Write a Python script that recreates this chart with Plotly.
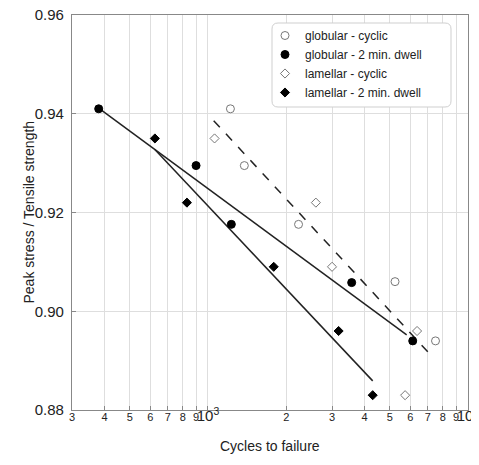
import plotly.graph_objects as go

# ---- data ----
glob_cyc_n = [1220, 1380, 2230, 5240, 7500]
glob_cyc_s = [0.941, 0.9295, 0.9176, 0.906, 0.894]

glob_dw_n = [380, 900, 1230, 3570, 6130]
glob_dw_s = [0.941, 0.9295, 0.9176, 0.9058, 0.894]

lam_cyc_n = [1060, 2600, 3000, 6370, 5730]
lam_cyc_s = [0.935, 0.922, 0.909, 0.896, 0.883]

lam_dw_n = [625, 830, 1790, 3180, 4300]
lam_dw_s = [0.935, 0.922, 0.909, 0.896, 0.883]

# fitted lines (endpoints)
fit_glob_dw_n = [381, 5810]
fit_glob_dw_s = [0.9411, 0.8952]
fit_lam_dw_n = [626, 4300]
fit_lam_dw_s = [0.9327, 0.8859]
fit_cyc_n = [1052, 7320]
fit_cyc_s = [0.9386, 0.8907]

tick_vals = [300, 400, 500, 600, 700, 800, 900, 1000,
             2000, 3000, 4000, 5000, 6000, 7000, 8000, 9000, 10000]
tick_text = ["3", "4", "5", "6", "7", "8", "9",
             "<span style='font-size:15px'>10<sup>3</sup></span>",
             "2", "3", "4", "5", "6", "7", "8", "9",
             "<span style='font-size:15px'>10<sup>4</sup></span>"]

FONT = "Arial, Liberation Sans, sans-serif"
GRAYM = "#777777"

fig = go.Figure()

# fit lines
fig.add_trace(go.Scatter(x=fit_glob_dw_n, y=fit_glob_dw_s, mode="lines",
                         line=dict(color="#222222", width=1.5), showlegend=False, hoverinfo="skip"))
fig.add_trace(go.Scatter(x=fit_lam_dw_n, y=fit_lam_dw_s, mode="lines",
                         line=dict(color="#222222", width=1.5), showlegend=False, hoverinfo="skip"))
fig.add_trace(go.Scatter(x=fit_cyc_n, y=fit_cyc_s, mode="lines",
                         line=dict(color="#222222", width=1.5, dash="dash"), showlegend=False, hoverinfo="skip"))

fig.add_trace(go.Scatter(x=glob_cyc_n, y=glob_cyc_s, mode="markers", name="globular - cyclic",
                         marker=dict(symbol="circle", size=8, color="white",
                                     line=dict(color=GRAYM, width=1))))
fig.add_trace(go.Scatter(x=glob_dw_n, y=glob_dw_s, mode="markers", name="globular - 2 min. dwell",
                         marker=dict(symbol="circle", size=8, color="black",
                                     line=dict(color="black", width=1))))
fig.add_trace(go.Scatter(x=lam_cyc_n, y=lam_cyc_s, mode="markers", name="lamellar - cyclic",
                         marker=dict(symbol="diamond", size=7, color="white",
                                     line=dict(color=GRAYM, width=1))))
fig.add_trace(go.Scatter(x=lam_dw_n, y=lam_dw_s, mode="markers", name="lamellar - 2 min. dwell",
                         marker=dict(symbol="diamond", size=7, color="black",
                                     line=dict(color="black", width=1))))

# rounded legend box
pw, ph = 396.0, 395.0
x0, x1 = (272 - 72) / pw, (451 - 72) / pw
y0, y1 = (410 - 107) / ph, (410 - 23) / ph
rx, ry = 6 / pw, 6 / ph
path = (f"M {x0+rx},{y0} L {x1-rx},{y0} Q {x1},{y0} {x1},{y0+ry} "
        f"L {x1},{y1-ry} Q {x1},{y1} {x1-rx},{y1} L {x0+rx},{y1} "
        f"Q {x0},{y1} {x0},{y1-ry} L {x0},{y0+ry} Q {x0},{y0} {x0+rx},{y0} Z")
fig.add_shape(type="path", path=path, xref="paper", yref="paper",
              fillcolor="white", line=dict(color="#cfcfcf", width=1), layer="above")

# axis titles as annotations (exact placement)
fig.add_annotation(text="Cycles to failure", xref="paper", yref="paper",
                   x=0.5, y=(410 - 446) / ph, xanchor="center", yanchor="middle",
                   showarrow=False, font=dict(size=14, family=FONT, color="#222222"))
fig.add_annotation(text="Peak stress / Tensile strength", xref="paper", yref="paper",
                   x=(28 - 72) / pw, y=0.5, xanchor="center", yanchor="middle",
                   textangle=-90, showarrow=False,
                   font=dict(size=14, family=FONT, color="#222222"))

# page body has an 8px margin -> figure is offset by 8px
fig.update_layout(
    width=471, height=457,
    margin=dict(l=64, r=11, t=7, b=55, autoexpand=False),
    paper_bgcolor="white", plot_bgcolor="white",
    font=dict(family=FONT, color="#222222"),
    legend=dict(x=(265 - 72) / pw, y=(410 - 21) / ph, xanchor="left", yanchor="top",
                bgcolor="rgba(0,0,0,0)", borderwidth=0,
                font=dict(size=12, family=FONT, color="#222222"),
                itemwidth=30, tracegroupgap=0),
    xaxis=dict(type="log", range=[2.4771213, 4.0], automargin=False,
               tickvals=tick_vals, ticktext=tick_text, tickangle=0,
               ticklabeloverflow="allow", ticklabelstandoff=-3,
               tickfont=dict(size=11, family=FONT, color="#222222"),
               showgrid=True, gridcolor="#dedede", gridwidth=1,
               ticks="inside", ticklen=4, tickcolor="#888888",
               showline=True, linecolor="#888888", linewidth=1.2, mirror=True,
               zeroline=False),
    yaxis=dict(range=[0.88, 0.96], automargin=False,
               tickvals=[0.88, 0.90, 0.92, 0.94, 0.96],
               ticktext=["0.88", "0.90", "0.92", "0.94", "0.96"],
               ticklabeloverflow="allow", ticklabelstandoff=4,
               tickfont=dict(size=15, family=FONT, color="#222222"),
               showgrid=True, gridcolor="#dedede", gridwidth=1,
               ticks="inside", ticklen=4, tickcolor="#888888",
               showline=True, linecolor="#888888", linewidth=1.2, mirror=True,
               zeroline=False),
)

fig.write_html("out.html")
